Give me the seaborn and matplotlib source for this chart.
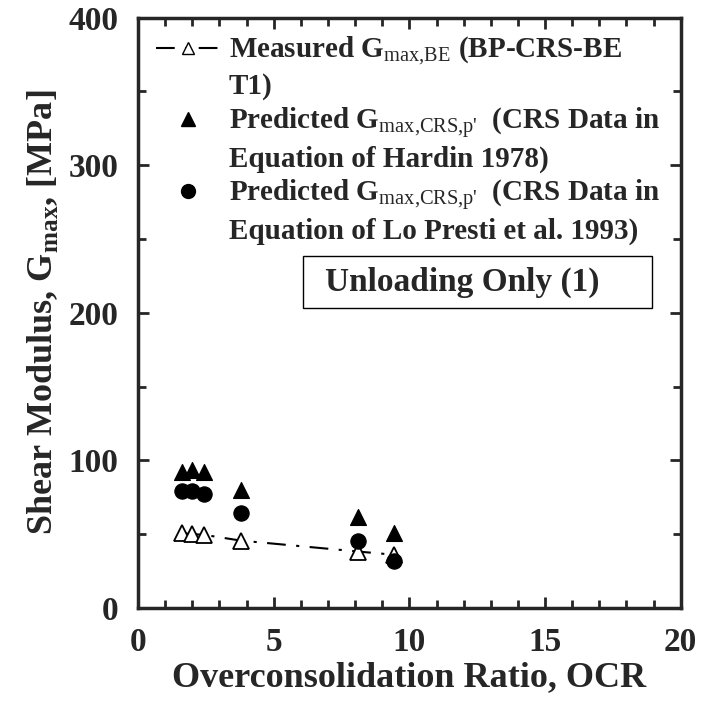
import pandas as pd
import matplotlib
matplotlib.use('Agg')
import matplotlib.pyplot as plt
from matplotlib.lines import Line2D
from matplotlib.patches import Rectangle
from matplotlib.ticker import MultipleLocator
import seaborn as sns

# data
ocr = [1.63, 1.99, 2.43, 3.78, 8.09, 9.44]
g_measured = [50.6, 50.0, 49.5, 45.6, 38.2, 36.0]
g_hardin = [92.4, 93.6, 92.4, 80.0, 61.9, 50.6]
g_lopresti = [79.5, 79.5, 77.3, 64.2, 45.6, 32.0]

df = pd.DataFrame({'OCR': ocr, 'measured': g_measured,
                   'hardin': g_hardin, 'lopresti': g_lopresti})

sns.set_style('ticks')
plt.rcParams['font.family'] = ['Liberation Serif', 'DejaVu Serif']
plt.rcParams['font.weight'] = 'bold'
plt.rcParams['mathtext.fontset'] = 'custom'
plt.rcParams['mathtext.rm'] = 'Liberation Serif:normal'
plt.rcParams['mathtext.bf'] = 'Liberation Serif:bold'

fig = plt.figure(figsize=(7.01, 7.06), dpi=100)
ax = fig.add_axes([0.197, 0.139, 0.774, 0.836])

# measured line with open triangles
sns.lineplot(data=df, x='OCR', y='measured', ax=ax, color='black', lw=1.5,
             marker='^', markersize=11, markerfacecolor='white',
             markeredgecolor='black', markeredgewidth=1.3,
             dashes=False, zorder=3)
ax.lines[0].set_dashes([9, 5, 1.5, 5])

sns.scatterplot(data=df, x='OCR', y='hardin', ax=ax, marker='^', s=130,
                color='black', edgecolor='black', zorder=4)
sns.scatterplot(data=df, x='OCR', y='lopresti', ax=ax, marker='o', s=120,
                color='black', edgecolor='black', zorder=4)

ax.set_xlim(0, 20)
ax.set_ylim(0, 400)
ax.xaxis.set_major_locator(MultipleLocator(5))
ax.xaxis.set_minor_locator(MultipleLocator(1))
ax.yaxis.set_major_locator(MultipleLocator(100))
ax.yaxis.set_minor_locator(MultipleLocator(50))
ax.tick_params(which='both', direction='in', top=True, right=True,
               width=2, labelsize=24, pad=14)
ax.tick_params(which='major', length=8)
ax.tick_params(which='minor', length=6)
for lab in ax.get_xticklabels() + ax.get_yticklabels():
    lab.set_fontweight('bold')
for sp in ax.spines.values():
    sp.set_linewidth(2.5)

ax.set_xlabel('Overconsolidation Ratio, OCR', fontsize=26, fontweight='bold',
              labelpad=2)
ax.set_ylabel(r'Shear Modulus, G$_{\mathbf{max}}$, [MPa]', fontsize=26,
              fontweight='bold', labelpad=6)

# legend, one row per text line
h_meas = Line2D([], [], color='black', lw=1.5, dashes=[9, 5, 1.5, 5],
                marker='^', markersize=9, markerfacecolor='white',
                markeredgecolor='black')
h_tri = Line2D([], [], ls='none', marker='^', markersize=10, color='black')
h_circ = Line2D([], [], ls='none', marker='o', markersize=10, color='black')
blank = Line2D([], [], ls='none')
handles = [h_meas, blank, h_tri, blank, h_circ, blank]
labels = [r'Measured G$_{\mathrm{max{,}BE}}$ (BP-CRS-BE',
          'T1)',
          r"Predicted G$_{\mathrm{max{,}CRS{,}p}\text{'}}$  (CRS Data in",
          'Equation of Hardin 1978)',
          r"Predicted G$_{\mathrm{max{,}CRS{,}p}\text{'}}$  (CRS Data in",
          'Equation of Lo Presti et al. 1993)']
ax.legend(handles, labels, loc='upper left', bbox_to_anchor=(0.0, 1.0),
          frameon=False, prop={'family': 'Liberation Serif', 'weight': 'bold',
                               'size': 21},
          handlelength=2.2, handletextpad=0.3, labelspacing=0.16,
          borderaxespad=0.2)

ax.add_patch(Rectangle((0.304, 0.508), 0.644, 0.089, transform=ax.transAxes,
                       fill=False, edgecolor='black', lw=1))
ax.text(0.597, 0.551, 'Unloading Only (1)', transform=ax.transAxes,
        ha='center', va='center', fontsize=24, fontweight='bold')

fig.savefig('out.png', dpi=100)
